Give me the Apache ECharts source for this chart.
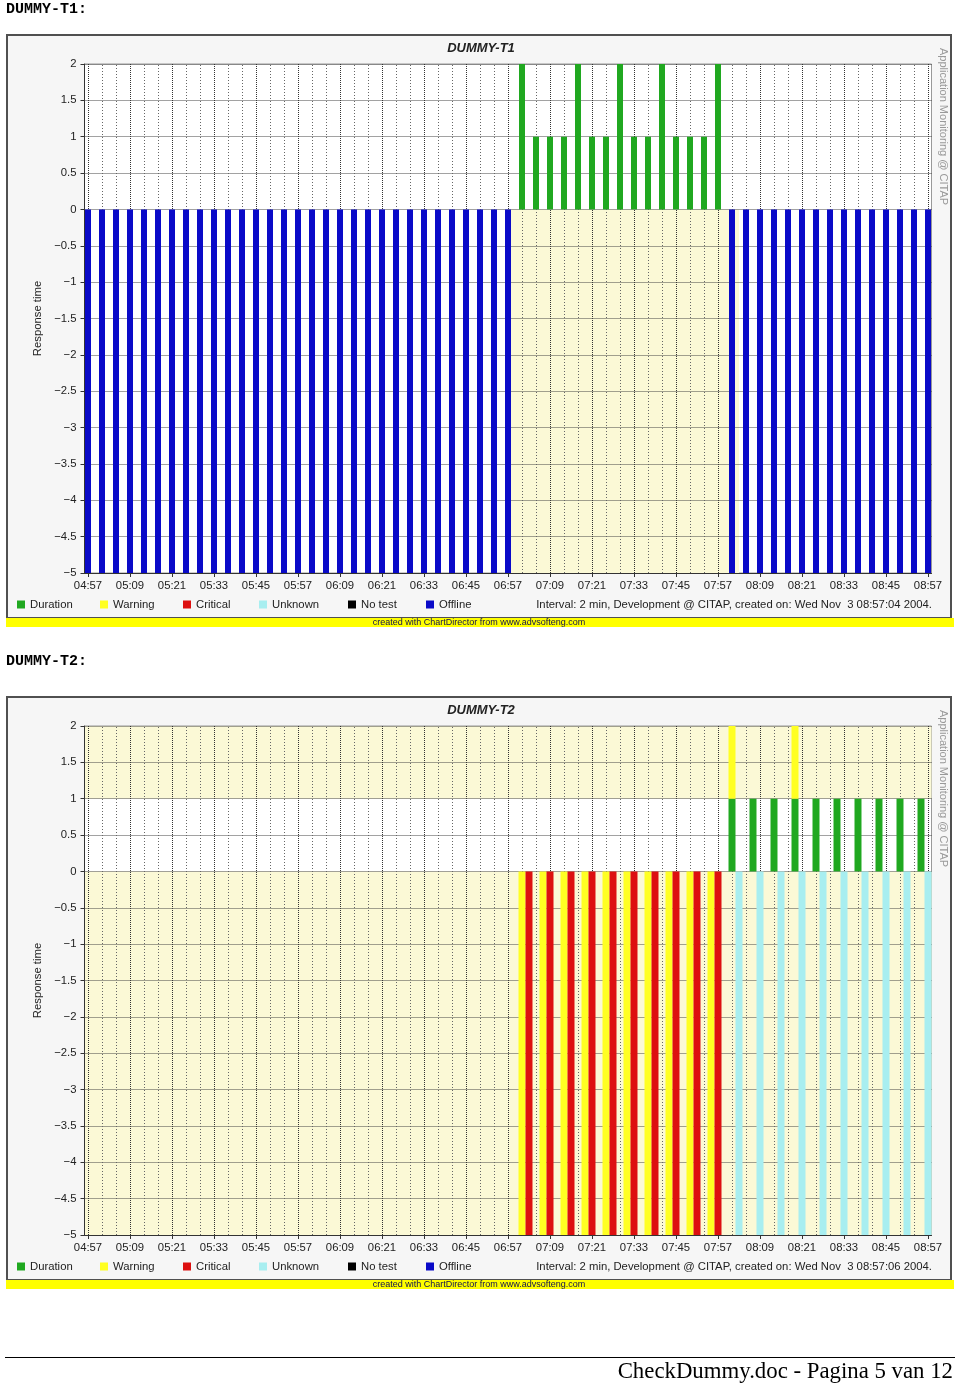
<!DOCTYPE html>
<html><head><meta charset="utf-8">
<script src="https://cdn.jsdelivr.net/npm/echarts@6/dist/echarts.min.js"></script>
<style>html,body{margin:0;padding:0;background:#fff}#c{width:960px;height:1384px}</style>
</head><body><div id="c"></div>
<script>
// x categories: one per 2-minute interval
const categories = [
 '04:57','04:59',
 '05:01','05:03','05:05','05:07','05:09','05:11','05:13','05:15','05:17','05:19','05:21','05:23','05:25','05:27','05:29',
 '05:31','05:33','05:35','05:37','05:39','05:41','05:43','05:45','05:47','05:49','05:51','05:53','05:55','05:57','05:59',
 '06:01','06:03','06:05','06:07','06:09','06:11','06:13','06:15','06:17','06:19','06:21','06:23','06:25','06:27','06:29',
 '06:31','06:33','06:35','06:37','06:39','06:41','06:43','06:45','06:47','06:49','06:51','06:53','06:55','06:57','06:59',
 '07:01','07:03','07:05','07:07','07:09','07:11','07:13','07:15','07:17','07:19','07:21','07:23','07:25','07:27','07:29',
 '07:31','07:33','07:35','07:37','07:39','07:41','07:43','07:45','07:47','07:49','07:51','07:53','07:55','07:57','07:59',
 '08:01','08:03','08:05','08:07','08:09','08:11','08:13','08:15','08:17','08:19','08:21','08:23','08:25','08:27','08:29',
 '08:31','08:33','08:35','08:37','08:39','08:41','08:43','08:45','08:47','08:49','08:51','08:53','08:55','08:57'
];
const tickLabels = ['04:57','05:09','05:21','05:33','05:45','05:57','06:09','06:21','06:33','06:45','06:57',
                    '07:09','07:21','07:33','07:45','07:57','08:09','08:21','08:33','08:45','08:57'];
const legendNames = ['Duration','Warning','Critical','Unknown','No test','Offline'];

// DUMMY-T1
const t1Offline = [
 ['04:57',-5],['05:01',-5],['05:05',-5],['05:09',-5],['05:13',-5],['05:17',-5],['05:21',-5],['05:25',-5],
 ['05:29',-5],['05:33',-5],['05:37',-5],['05:41',-5],['05:45',-5],['05:49',-5],['05:53',-5],['05:57',-5],
 ['06:01',-5],['06:05',-5],['06:09',-5],['06:13',-5],['06:17',-5],['06:21',-5],['06:25',-5],['06:29',-5],
 ['06:33',-5],['06:37',-5],['06:41',-5],['06:45',-5],['06:49',-5],['06:53',-5],['06:57',-5],
 ['08:01',-5],['08:05',-5],['08:09',-5],['08:13',-5],['08:17',-5],['08:21',-5],['08:25',-5],['08:29',-5],
 ['08:33',-5],['08:37',-5],['08:41',-5],['08:45',-5],['08:49',-5],['08:53',-5],['08:57',-5]
];
const t1Duration = [
 ['07:01',2],['07:05',1],['07:09',1],['07:13',1],['07:17',2],['07:21',1],['07:25',1],['07:29',2],
 ['07:33',1],['07:37',1],['07:41',2],['07:45',1],['07:49',1],['07:53',1],['07:57',2]
];
const t1Zones = [[{xAxis:'06:57', yAxis:0},{xAxis:'08:01', yAxis:-5}]];

// DUMMY-T2
const t2Warning = [
 ['07:01',-5],['07:07',-5],['07:13',-5],['07:19',-5],['07:25',-5],['07:31',-5],['07:37',-5],['07:43',-5],
 ['07:49',-5],['07:55',-5],['08:01',1],['08:19',1]
];
const t2Critical = [
 ['07:03',-5],['07:09',-5],['07:15',-5],['07:21',-5],['07:27',-5],['07:33',-5],['07:39',-5],['07:45',-5],
 ['07:51',-5],['07:57',-5]
];
const t2Duration = [
 ['08:01',1],['08:07',1],['08:13',1],['08:19',1],['08:25',1],['08:31',1],['08:37',1],['08:43',1],
 ['08:49',1],['08:55',1]
];
const t2Unknown = [
 ['08:03',-5],['08:09',-5],['08:15',-5],['08:21',-5],['08:27',-5],['08:33',-5],['08:39',-5],['08:45',-5],
 ['08:51',-5],['08:57',-5]
];
const t2Zones = [[{yAxis:2},{yAxis:1}], [{yAxis:0},{yAxis:-5}]];

const charts = [
  {title:'DUMMY-T1', header:'DUMMY-T1:', created:'Interval: 2 min, Development @ CITAP, created on: Wed Nov  3 08:57:04 2004.',
   data:{Duration:t1Duration, Offline:t1Offline}, zones:t1Zones, barW:6},
  {title:'DUMMY-T2', header:'DUMMY-T2:', created:'Interval: 2 min, Development @ CITAP, created on: Wed Nov  3 08:57:06 2004.',
   data:{Duration:t2Duration, Warning:t2Warning, Critical:t2Critical, Unknown:t2Unknown}, zones:t2Zones, barW:7}
];

// ---- styling / layout ----
const FONT = '"Liberation Sans", Arial, sans-serif';
const FS = 11.3;
const COLORS = {Duration:'#20a820', Warning:'#ffff22', Critical:'#dd1010', Unknown:'#a8eef0', 'No test':'#000000', Offline:'#0a0ac8'};
const legendLefts = [17,100,183,259,348,426];
const offsets = [0, 662];
const headerY = [9, 661];
const cream = '#fbf9d6';

const majorLines = tickLabels;
const minorLines = categories.filter((c,i)=> i%2===0 && tickLabels.indexOf(c)<0);

const option = {animation:false, backgroundColor:'#ffffff',
  title:[], grid:[], xAxis:[], yAxis:[], series:[], legend:[], graphic:{elements:[]}};

charts.forEach((ch, k) => {
  const dy = offsets[k];
  option.grid.push({left:84.5, top:64+dy, width:847, height:509, show:true, backgroundColor:'#ffffff',
    borderColor:'#999', borderWidth:1, containLabel:false, outerBoundsMode:'none'});
  option.title.push({text:ch.title, left:481, top:42+dy, textAlign:'center', padding:0,
    textStyle:{fontSize:13, fontWeight:'bold', fontStyle:'italic', color:'#222', fontFamily:FONT}});
  option.xAxis.push({type:'category', gridIndex:k, data:categories, boundaryGap:true, z:1,
    axisLine:{show:true, onZero:false, lineStyle:{color:'#333', width:1}},
    axisTick:{show:true, interval:5, alignWithLabel:true, length:4, lineStyle:{color:'#333'}},
    axisLabel:{show:true, interval:5, margin:7, fontSize:FS, color:'#222', fontFamily:FONT, hideOverlap:false},
    splitLine:{show:false}});
  option.yAxis.push({type:'value', gridIndex:k, min:-5, max:2, interval:0.5, z:1,
    name:'Response time', nameLocation:'middle', nameGap:37, nameRotate:90,
    nameTextStyle:{fontSize:FS, color:'#222', fontFamily:FONT},
    axisLine:{show:true, lineStyle:{color:'#333', width:1}},
    axisTick:{show:true, length:4, lineStyle:{color:'#333'}},
    axisLabel:{margin:8, fontSize:FS, color:'#222', fontFamily:FONT,
      formatter: v => v < 0 ? '\u2212' + Math.abs(v) : String(v)},
    splitLine:{show:true, lineStyle:{type:[1,1], color:'#444', width:1}}});
  legendNames.forEach((name, j) => {
    const s = {type:'bar', name:name, xAxisIndex:k, yAxisIndex:k, stack:'st'+k, barWidth:ch.barW,
      data: ch.data[name] || [], itemStyle:{color:COLORS[name]}, silent:true};
    if (name === 'Duration') {
      s.markArea = {silent:true, z:0, label:{show:false}, itemStyle:{color:cream}, data:ch.zones};
      s.markLine = {silent:true, z:1, symbol:['none','none'], label:{show:false}, animation:false,
        data: majorLines.map(t => ({xAxis:t, lineStyle:{type:[1,1], color:'#333', width:1}}))
          .concat(minorLines.map(t => ({xAxis:t, lineStyle:{type:[1,2], color:'#666', width:1}})))};
    }
    option.series.push(s);
    option.legend.push({data:[name], left:legendLefts[j], top:599+dy, padding:0, icon:'rect',
      itemWidth:8, itemHeight:8, selectedMode:false,
      textStyle:{fontSize:FS, color:'#222', fontFamily:FONT}});
  });
  const E = option.graphic.elements;
  E.push({type:'text', x:6, y:headerY[k], z:10, style:{text:ch.header, font:'bold 15px "Liberation Mono", monospace',
    fill:'#000', textVerticalAlign:'middle', verticalAlign:'middle'}});
  E.push({type:'rect', z:-10, shape:{x:7, y:35+dy, width:944, height:583}, style:{fill:'#f6f6f6', stroke:'#505050', lineWidth:2}});
  E.push({type:'rect', z:-9, shape:{x:6, y:618+dy, width:948, height:9}, style:{fill:'#ffff00'}});
  E.push({type:'text', x:479, y:622.5+dy, z:10, style:{text:'created with ChartDirector from www.advsofteng.com',
    font:'9px ' + FONT, fill:'#101050', textAlign:'center', align:'center', textVerticalAlign:'middle', verticalAlign:'middle'}});
  E.push({type:'text', x:932, y:605+dy, z:10, style:{text:ch.created, font:FS + 'px ' + FONT, fill:'#222',
    textAlign:'right', align:'right', textVerticalAlign:'middle', verticalAlign:'middle'}});
  E.push({type:'text', x:943, y:48+dy, z:10, rotation:-Math.PI/2, style:{text:'Application Monitoring @ CITAP',
    font:'11px ' + FONT, fill:'#999', textAlign:'left', align:'left', textVerticalAlign:'middle', verticalAlign:'middle'}});
});

option.graphic.elements.push({type:'line', z:10, shape:{x1:5, y1:1357.5, x2:955, y2:1357.5}, style:{stroke:'#000', lineWidth:1}});
option.graphic.elements.push({type:'text', x:953, y:1372, z:10, style:{text:'CheckDummy.doc - Pagina 5 van 12',
  font:'22.8px "Liberation Serif", "Times New Roman", serif', fill:'#000', textAlign:'right', align:'right',
  textVerticalAlign:'middle', verticalAlign:'middle'}});

const chart = echarts.init(document.getElementById('c'), null, {renderer:'canvas'});
chart.setOption(option);
</script>
</body></html>
